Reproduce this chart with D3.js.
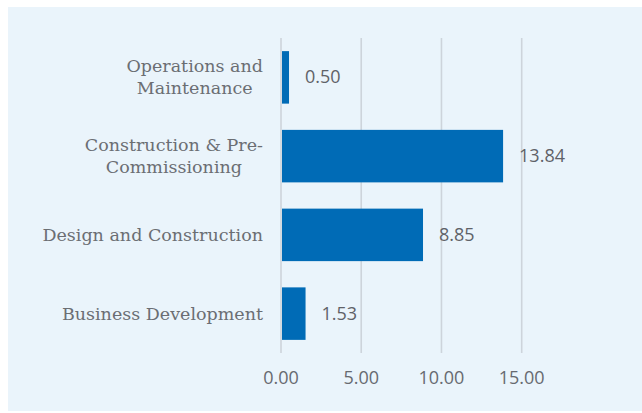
<!DOCTYPE html>
<html>
<head>
<meta charset="utf-8">
<script src="https://cdn.jsdelivr.net/npm/d3@7"></script>
<style>
  body { margin: 0; background: #fff; }
  svg { display: block; }
</style>
</head>
<body>
<svg width="642" height="413"></svg>
<script>
// chart data
var categories = [["Operations and", "Maintenance"], ["Construction & Pre-", "Commissioning"], ["Design and Construction"], ["Business Development"]]
var values = [0.50, 13.84, 8.85, 1.53]
var ticks = [0, 5, 10, 15]
var tickLabels = ["0.00", "5.00", "10.00", "15.00"]

var svg = d3.select('svg')

svg.append('rect')
    .attr('x', 8).attr('y', 7)
    .attr('width', 634).attr('height', 404)
    .attr('fill', '#eaf4fb')

var x = d3.scaleLinear().domain([0, 15]).range([281, 521.7])
var y = d3.scaleBand()
    .domain(d3.range(values.length))
    .range([38, 353])
    .paddingInner(1/3)
    .paddingOuter(1/6)

// grid lines
svg.append('g').selectAll('line')
    .data(ticks)
    .enter()
    .append('line')
    .attr('x1', function(d) { return x(d) })
    .attr('x2', function(d) { return x(d) })
    .attr('y1', 38)
    .attr('y2', 353)
    .attr('stroke', '#cdd4db')
    .attr('stroke-width', 1.6)

svg.append('g').selectAll('text')
    .data(ticks)
    .enter()
    .append('text')
    .attr('x', function(d) { return x(d) })
    .attr('y', 384)
    .attr('text-anchor', 'middle')
    .attr('font-family', 'Open Sans')
    .attr('font-size', '18px')
    .attr('fill', '#676a70')
    .text(function(d, i) { return tickLabels[i] })

// bars
svg.append('g').selectAll('rect')
    .data(values)
    .enter()
    .append('rect')
    .attr('x', x(0) + 1)
    .attr('y', function(d, i) { return y(i) })
    .attr('width', function(d) { return x(d) - x(0) - 1 })
    .attr('height', y.bandwidth())
    .attr('fill', '#006bb6')

svg.append('g').selectAll('text')
    .data(values)
    .enter()
    .append('text')
    .attr('x', function(d) { return x(d) + 16 })
    .attr('y', function(d, i) { return y(i) + y.bandwidth() / 2 + 6 })
    .attr('font-family', 'Open Sans')
    .attr('font-size', '18px')
    .attr('fill', '#5f6268')
    .text(function(d) { return d.toFixed(2) })

// category labels, lines centred in a right-aligned block
var labels = svg.append('g').selectAll('text')
    .data(categories)
    .enter()
    .append('text')
    .attr('text-anchor', 'middle')
    .attr('font-family', 'DejaVu Serif')
    .attr('font-size', '17.5px')
    .attr('fill', '#6b6e73')
    .attr('y', function(d, i) { return y(i) + y.bandwidth() / 2 + 6 - (d.length - 1) * 11 })

labels.selectAll('tspan')
    .data(function(d) { return d })
    .enter()
    .append('tspan')
    .attr('dy', function(d, i) { return i ? 22 : 0 })
    .text(function(d) { return d })

labels.each(function() {
  var spans = d3.select(this).selectAll('tspan')
  var w = d3.max(spans.nodes(), function(n) { return n.getComputedTextLength() })
  spans.attr('x', 263 - w / 2)
})
</script>
</body>
</html>
